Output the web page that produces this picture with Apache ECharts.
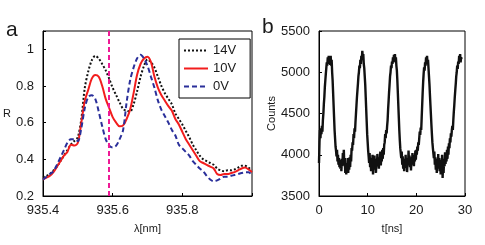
<!DOCTYPE html>
<html>
<head>
<meta charset="utf-8">
<script src="https://cdn.jsdelivr.net/npm/echarts@6/dist/echarts.min.js"></script>
<style>
html,body{margin:0;padding:0;background:#fff;}
#c{width:485px;height:245px;}
</style>
</head>
<body>
<div id="c"></div>
<script>
// ---- Panel a: reflectance spectra ----
const wavelengths = [935.40,935.41,935.42,935.43,935.44,935.45,935.46,935.47,935.48,935.49,
  935.50,935.51,935.52,935.53,935.54,935.55,935.56,935.57,935.58,935.59,
  935.60,935.61,935.62,935.63,935.64,935.65,935.66,935.67,935.68,935.69,
  935.70,935.71,935.72,935.73,935.74,935.75,935.76,935.77,935.78,935.79,
  935.80,935.81,935.82,935.83,935.84,935.85,935.86,935.87,935.88,935.89,
  935.90,935.91,935.92,935.93,935.94,935.95,935.96,935.97,935.98,935.99,936.00];
const r14V = [0.30,0.31,0.32,0.34,0.36,0.39,0.42,0.45,0.48,0.50,
  0.52,0.62,0.79,0.88,0.94,0.965,0.95,0.92,0.885,0.84,
  0.79,0.75,0.71,0.675,0.665,0.66,0.70,0.77,0.85,0.91,
  0.945,0.93,0.90,0.85,0.80,0.76,0.73,0.70,0.65,0.62,
  0.59,0.555,0.52,0.48,0.45,0.42,0.40,0.39,0.38,0.37,
  0.35,0.34,0.335,0.34,0.34,0.345,0.355,0.365,0.365,0.355,0.34];
const r10V = [0.29,0.30,0.31,0.33,0.36,0.39,0.42,0.44,0.48,0.475,
  0.49,0.60,0.72,0.78,0.84,0.86,0.85,0.80,0.73,0.68,
  0.63,0.60,0.58,0.585,0.62,0.67,0.76,0.86,0.92,0.95,
  0.96,0.93,0.85,0.79,0.75,0.72,0.69,0.665,0.62,0.59,
  0.55,0.51,0.48,0.45,0.42,0.39,0.38,0.37,0.36,0.35,
  0.32,0.315,0.32,0.32,0.325,0.33,0.34,0.35,0.355,0.345,0.33];
const r0V = [0.29,0.305,0.32,0.335,0.37,0.41,0.45,0.49,0.51,0.51,
  0.50,0.57,0.68,0.74,0.75,0.73,0.66,0.58,0.51,0.475,
  0.465,0.475,0.51,0.56,0.71,0.83,0.90,0.95,0.97,0.95,
  0.91,0.85,0.79,0.72,0.67,0.635,0.60,0.56,0.53,0.48,
  0.46,0.44,0.42,0.39,0.37,0.35,0.335,0.31,0.29,0.28,
  0.285,0.295,0.305,0.305,0.31,0.315,0.32,0.325,0.33,0.33,0.315];
const seriesNames = ['14V','10V','0V'];
const markerWavelength = 935.59;
const xTicksA = [935.4, 935.6, 935.8];

// ---- Panel b: time trace ----
const timeStart = 0, timeStep = 0.1;
const counts = [
  3900,4150,4300,4200,4320,4250,4350,4280,4420,4500,
  4620,4700,4820,4900,4980,5050,5120,5080,5180,5100,
  5200,5120,5180,5090,5200,5080,5150,5000,4900,4750,
  4600,4450,4300,4200,4100,4050,3980,4060,3920,4000,
  3880,3960,3850,3940,3830,3900,3800,3950,3860,4020,
  3900,4060,3870,3960,3780,3900,3760,3880,3800,3960,
  3780,3900,3820,3970,3850,4000,3920,4080,4050,4150,
  4120,4250,4200,4320,4280,4400,4500,4600,4700,4780,
  4860,4950,5000,5080,5050,5150,5100,5200,5150,5260,
  5180,5220,5100,5050,4950,4850,4700,4550,4400,4250,
  4150,4050,3980,
  3900,4020,3850,3960,3800,3940,3880,4000,3760,3900,3850,3990,3820,3950,3780,3920,
  3860,4010,3880,3970,3830,3950,3900,4040,3870,3980,3920,4060,3950,4080,4000,4120,
  4150,4250,4200,4300,4260,4350,4420,4550,4650,4760,4850,4950,5000,5080,5050,5130,5100,5180,5120,5210,
  5150,5220,5130,5180,5080,5020,4900,4750,4600,4450,4300,4180,4080,4020,3960,
  4040,3880,3980,3830,3950,3800,3920,3860,4000,3840,3960,3790,3930,3870,4050,3900,3990,3850,3970,
  3810,3940,3880,4020,3900,3980,3860,4000,3920,4050,3940,4060,4000,4100,4050,4150,4120,4200,
  4280,4240,4330,4300,4450,4600,4750,4880,4980,5060,5020,5120,5080,
  5180,5120,5200,5100,5150,5050,4950,4850,4720,4600,4480,4360,4250,4150,4080,4020,3960,4040,
  3880,3970,3820,3950,3780,3900,3860,4010,3830,3960,3800,3940,3760,3890,3850,4000,3720,
  3900,3780,3950,3860,4030,3890,3980,3920,4060,3950,4100,4000,4140,4080,4200,4150,
  4260,4220,4300,4350,4300,4420,4520,4600,4700,4780,4860,4950,5000,5080,5040,5130,5100,5200,5150,
  5220,5120,5180,5160
];

const FONT = '"Liberation Sans", Arial, sans-serif';
const TXT = '#1a1a1a';

const pairs = (xs, ys) => ys.map((y, i) => [xs[i], y]);
const tracePairs = counts.map((c, i) => [+(timeStart + i * timeStep).toFixed(2), c]);

const chart = echarts.init(document.getElementById('c'), null, {renderer: 'canvas'});

const axisCommon = {
  axisLine: {show: true, onZero: false, lineStyle: {color: '#000', width: 1}},
  axisTick: {show: true, inside: true, length: 3, lineStyle: {color: '#000'}},
  splitLine: {show: false},
  axisLabel: {color: TXT, fontSize: 13, fontFamily: FONT},
  nameTextStyle: {color: TXT, fontSize: 11, fontFamily: FONT}
};

chart.setOption({
  animation: false,
  backgroundColor: '#fff',
  textStyle: {fontFamily: FONT},
  graphic: [
    {type: 'text', left: 6, top: 20, style: {text: 'a', fontSize: 21, fontFamily: FONT, fill: TXT}},
    {type: 'text', left: 262, top: 17, style: {text: 'b', fontSize: 21, fontFamily: FONT, fill: TXT}}
  ],
  grid: [
    {left: 43, top: 31, width: 209, height: 165, show: true, borderColor: '#000', borderWidth: 1, backgroundColor: 'transparent'},
    {left: 319, top: 31, width: 146, height: 165, show: true, borderColor: '#000', borderWidth: 1, backgroundColor: 'transparent'}
  ],
  xAxis: [
    Object.assign({}, axisCommon, {
      type: 'value', gridIndex: 0, min: 935.4, max: 936.0, interval: 0.2,
      name: 'λ[nm]', nameLocation: 'middle', nameGap: 27,
      axisLabel: Object.assign({}, axisCommon.axisLabel, {
        margin: 8,
        formatter: v => xTicksA.some(t => Math.abs(t - v) < 1e-6) ? v.toFixed(1) : ''
      })
    }),
    Object.assign({}, axisCommon, {
      type: 'value', gridIndex: 1, min: 0, max: 30, interval: 10,
      name: 't[ns]', nameLocation: 'middle', nameGap: 27,
      axisLabel: Object.assign({}, axisCommon.axisLabel, {margin: 8, formatter: v => String(v)})
    })
  ],
  yAxis: [
    Object.assign({}, axisCommon, {
      type: 'value', gridIndex: 0, min: 0.2, max: 1.1, interval: 0.2,
      name: 'R', nameLocation: 'middle', nameGap: 28, nameRotate: 0,
      axisLabel: Object.assign({}, axisCommon.axisLabel, {
        margin: 9,
        formatter: v => Math.abs(v * 5 - Math.round(v * 5)) < 1e-6 ? String(+v.toFixed(1)) : ''
      })
    }),
    Object.assign({}, axisCommon, {
      type: 'value', gridIndex: 1, min: 3500, max: 5500, interval: 500,
      name: 'Counts', nameLocation: 'middle', nameGap: 40, nameRotate: 90,
      axisLabel: Object.assign({}, axisCommon.axisLabel, {margin: 9, formatter: v => String(v)})
    })
  ],
  legend: {
    data: seriesNames,
    left: 179, top: 39,
    orient: 'vertical',
    itemWidth: 24, itemHeight: 14, itemGap: 5,
    padding: [5, 14, 5, 4],
    backgroundColor: '#fff',
    borderColor: '#000', borderWidth: 1, borderRadius: 0,
    itemStyle: {opacity: 0},
    textStyle: {color: TXT, fontSize: 13, fontFamily: FONT}
  },
  series: [
    {
      name: '14V', type: 'line', xAxisIndex: 0, yAxisIndex: 0, data: pairs(wavelengths, r14V),
      showSymbol: false, symbol: 'none', smooth: 0.3,
      lineStyle: {color: '#111', width: 2, type: [2, 2]}, itemStyle: {color: '#111'},
      markLine: {
        silent: true, symbol: 'none', label: {show: false},
        lineStyle: {color: '#ee1a96', width: 2, type: [5, 3]},
        data: [{xAxis: markerWavelength}]
      }
    },
    {
      name: '10V', type: 'line', xAxisIndex: 0, yAxisIndex: 0, data: pairs(wavelengths, r10V),
      showSymbol: false, symbol: 'none', smooth: 0.3,
      lineStyle: {color: '#f21d1d', width: 2, type: 'solid'}, itemStyle: {color: '#f21d1d'}
    },
    {
      name: '0V', type: 'line', xAxisIndex: 0, yAxisIndex: 0, data: pairs(wavelengths, r0V),
      showSymbol: false, symbol: 'none', smooth: 0.3,
      lineStyle: {color: '#2a2f9a', width: 2, type: [5, 3]}, itemStyle: {color: '#2a2f9a'}
    },
    {
      name: 'trace', type: 'line', xAxisIndex: 1, yAxisIndex: 1, data: tracePairs,
      showSymbol: false, symbol: 'none',
      lineStyle: {color: '#111', width: 2.4}, itemStyle: {color: '#111'}
    }
  ]
});
</script>
</body>
</html>
